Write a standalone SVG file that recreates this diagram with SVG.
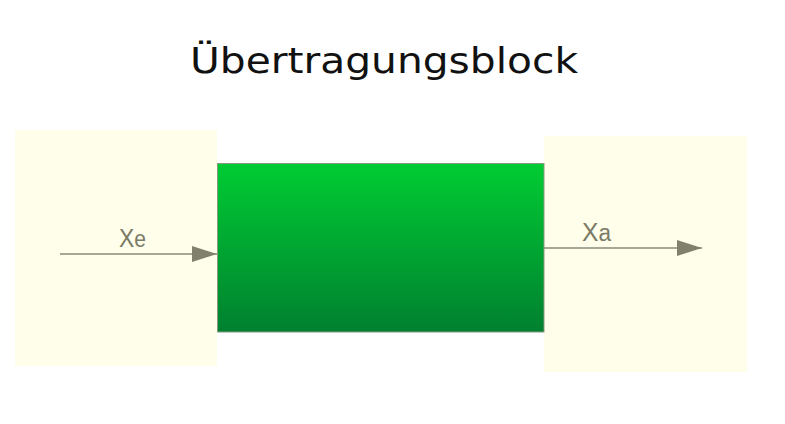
<svg xmlns="http://www.w3.org/2000/svg" width="785" height="424" viewBox="0 0 785 424">
<style>
.bg{fill:#fffeea;}
.lbl{font-family:"Liberation Sans",Arial,sans-serif;font-size:25px;fill:#7a7a66;}
.conn{stroke:#8a8a78;stroke-width:1.5;fill:none;}
.title{font-family:"DejaVu Sans","Liberation Sans",sans-serif;font-size:36px;fill:#111;}
</style>
<defs>
<linearGradient id="g" x1="0" y1="0" x2="0" y2="1">
<stop offset="0" stop-color="#00cc33"/>
<stop offset="1" stop-color="#008030"/>
</linearGradient>
<marker id="arr" markerUnits="userSpaceOnUse" markerWidth="26" markerHeight="18" refX="25" refY="8" orient="auto">
<path d="M0,0 L25,8 L0,16 Z" fill="#80806c"/>
</marker>
</defs>
<rect width="785" height="424" fill="#ffffff"/>
<text class="title" x="190" y="73" textLength="388" lengthAdjust="spacingAndGlyphs">Übertragungsblock</text>
<g id="input-area"><rect class="bg" x="15" y="130" width="202" height="236"/></g>
<g id="output-area"><rect class="bg" x="544" y="136" width="203" height="236"/></g>
<g id="block"><rect x="217.5" y="163.5" width="326.5" height="168.5" fill="url(#g)" stroke="#8a9a80" stroke-width="1"/></g>
<g id="connectors">
<line class="conn" x1="60" y1="254" x2="217" y2="254" marker-end="url(#arr)"/>
<line class="conn" x1="544" y1="248" x2="702" y2="248" marker-end="url(#arr)"/>
</g>
<g id="labels">
<text class="lbl" x="119" y="247" textLength="27" lengthAdjust="spacingAndGlyphs">X<tspan font-size="23">e</tspan></text>
<text class="lbl" x="582" y="241" textLength="29" lengthAdjust="spacingAndGlyphs">X<tspan font-size="23">a</tspan></text>
</g>
</svg>
